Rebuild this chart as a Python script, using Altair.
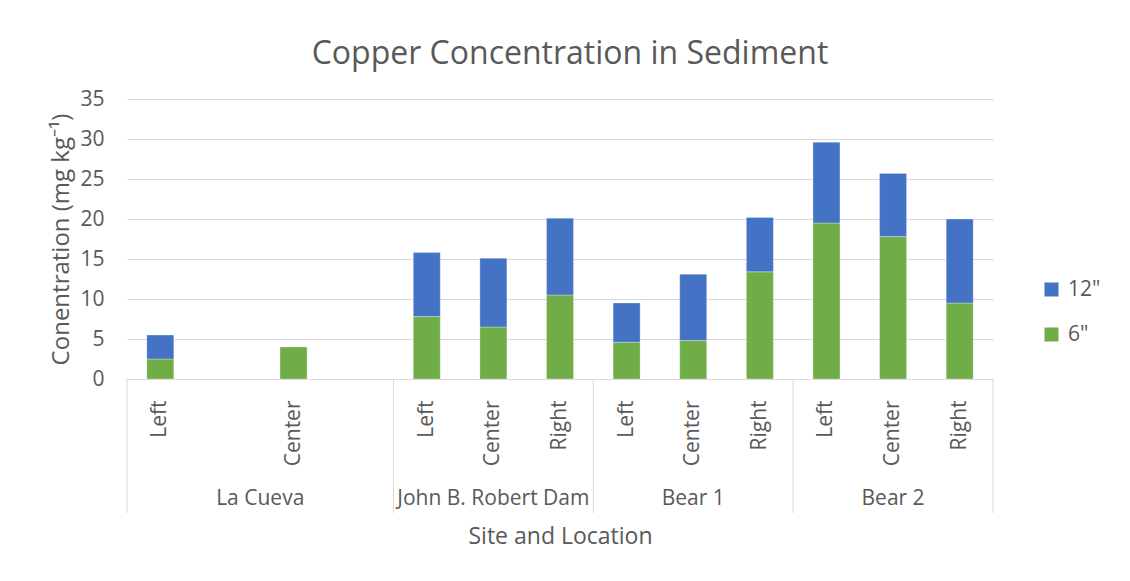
import altair as alt
import pandas as pd

# ---- data ----
sites = ["La Cueva"] * 4 + ["John B. Robert Dam"] * 3 + ["Bear 1"] * 3 + ["Bear 2"] * 3
locations = ["Left", "", "Center", "", "Left", "Center", "Right",
             "Left", "Center", "Right", "Left", "Center", "Right"]
six_inch = [2.5, None, 4.0, None, 7.8, 6.5, 10.5, 4.6, 4.8, 13.4, 19.5, 17.8, 9.5]
twelve_inch = [3.0, None, None, None, 8.0, 8.6, 9.6, 4.9, 8.3, 6.8, 10.1, 7.9, 10.5]
depths = ['12"', '6"']
depth_colors = ["#4472C4", "#70AD47"]
group_names = ["La Cueva", "John B. Robert Dam", "Bear 1", "Bear 2"]
y_ticks = [0, 5, 10, 15, 20, 25, 30, 35]

slot_keys = [f"{i}|{loc}" for i, loc in enumerate(locations)]

rows = []
for key, site, v6, v12 in zip(slot_keys, sites, six_inch, twelve_inch):
    if v6 is not None:
        rows.append({"key": key, "site": site, "depth": '6"', "value": v6, "ord": 0})
    if v12 is not None:
        rows.append({"key": key, "site": site, "depth": '12"', "value": v12, "ord": 1})
bars_df = pd.DataFrame(rows)

# group label anchors and separators derived from the slot layout
grp_rows = []
sep_rows = []
for g in group_names:
    idx = [i for i, s in enumerate(sites) if s == g]
    n = len(idx)
    if n % 2 == 1:
        grp_rows.append({"key": slot_keys[idx[n // 2]], "site": g, "even": 0})
    else:
        grp_rows.append({"key": slot_keys[idx[n // 2 - 1]], "site": g, "even": 1})
    sep_rows.append({"key": slot_keys[idx[0]], "end": 0})
sep_rows.append({"key": slot_keys[-1], "end": 1})
grp_df = pd.DataFrame(grp_rows)
sep_df = pd.DataFrame(sep_rows)

W, H = 866, 280
TXT = "#595959"
GRID = "#D9D9D9"
FONT = "Open Sans"
LBL = 21

xscale = alt.Scale(domain=slot_keys, paddingInner=0, paddingOuter=0)

x_axis = alt.Axis(
    title="Site and Location",
    labelExpr="split(datum.label, '|')[1]",
    labelAngle=270,
    labelPadding=21,
    labelFontSize=LBL,
    labelColor=TXT,
    labelOverlap=False,
    labelBound=False,
    ticks=False,
    domainColor=GRID,
    domainWidth=1,
    titleFontSize=23,
    titleFontWeight="normal",
    titleColor=TXT,
    titleX=W / 2,
    titleY=157,
    titleBaseline="middle",
    titleAlign="center",
)

y_axis = alt.Axis(
    title="Conentration (mg kg⁻¹)",
    values=y_ticks,
    labelFontSize=LBL,
    labelColor=TXT,
    labelPadding=23,
    ticks=False,
    domain=False,
    grid=True,
    gridColor=GRID,
    gridWidth=1,
    titleFontSize=24,
    titleFontWeight="normal",
    titleColor=TXT,
    titleAngle=270,
    titleX=-66,
    titleY=H / 2,
    titleAlign="center",
    titleBaseline="middle",
)

bars = alt.Chart(bars_df).mark_bar(size=27, stroke="white", strokeWidth=0.6, strokeOpacity=0.5).encode(
    x=alt.X("key:N", sort=slot_keys, scale=xscale, axis=x_axis),
    y=alt.Y("value:Q", stack="zero", scale=alt.Scale(domain=[0, 35], nice=False), axis=y_axis),
    color=alt.Color(
        "depth:N",
        scale=alt.Scale(domain=depths, range=depth_colors),
        legend=alt.Legend(
            title=None,
            orient="none",
            legendX=914,
            legendY=180,
            symbolType="square",
            symbolSize=196,
            symbolStrokeWidth=0,
            labelFontSize=LBL,
            labelColor=TXT,
            labelOffset=6,
            rowPadding=23,
            direction="vertical",
        ),
    ),
    order=alt.Order("ord:Q", sort="ascending"),
)

grp_odd = alt.Chart(grp_df).transform_filter("datum.even == 0").mark_text(
    fontSize=LBL, color=TXT, baseline="middle", align="center"
).encode(
    x=alt.X("key:N", sort=slot_keys, scale=xscale, bandPosition=0.5),
    y=alt.value(H + 120),
    text="site:N",
)

grp_even = alt.Chart(grp_df).transform_filter("datum.even == 1").mark_text(
    fontSize=LBL, color=TXT, baseline="middle", align="center"
).encode(
    x=alt.X("key:N", sort=slot_keys, scale=xscale, bandPosition=1),
    y=alt.value(H + 120),
    text="site:N",
)

sep_start = alt.Chart(sep_df).transform_filter("datum.end == 0").mark_rule(color=GRID, strokeWidth=1).encode(
    x=alt.X("key:N", sort=slot_keys, scale=xscale, bandPosition=0),
    y=alt.value(H),
    y2=alt.value(H + 134),
)

sep_end = alt.Chart(sep_df).transform_filter("datum.end == 1").mark_rule(color=GRID, strokeWidth=1).encode(
    x=alt.X("key:N", sort=slot_keys, scale=xscale, bandPosition=1),
    y=alt.value(H),
    y2=alt.value(H + 134),
)

chart = alt.layer(bars, sep_start, sep_end, grp_odd, grp_even).properties(
    width=W,
    height=H,
    title=alt.TitleParams(
        "Copper Concentration in Sediment",
        fontSize=32,
        fontWeight="normal",
        color=TXT,
        anchor="middle",
        dx=10,
        offset=17,
        font=FONT,
    ),
    autosize=alt.AutoSizeParams(type="none"),
    padding={"left": 119, "top": 91, "right": 129, "bottom": 194},
).configure(
    font=FONT,
).configure_view(
    stroke=None,
)

chart.save("out.html", embed_options={"renderer": "svg", "actions": False})
